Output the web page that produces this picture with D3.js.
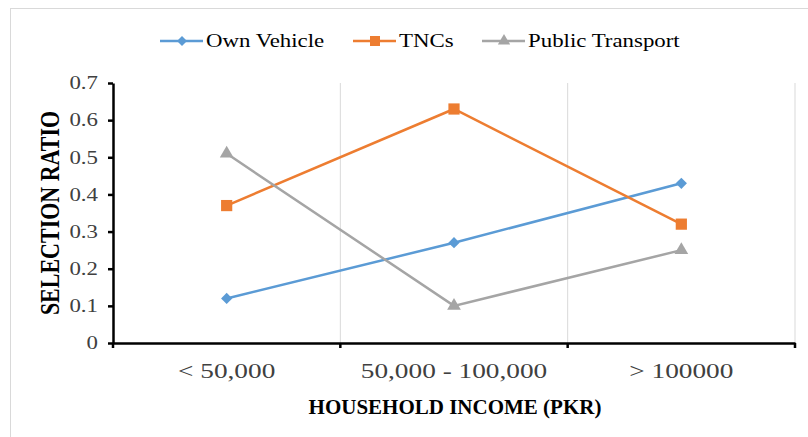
<!DOCTYPE html>
<html lang="en">
  <head>
    <meta charset="utf-8" />
    <script src="https://cdn.jsdelivr.net/npm/d3@7/dist/d3.min.js"></script>
    <style>
      body { margin: 0; background: #fff; }
      text { font-family: "Liberation Serif", "Times New Roman", serif; }
      .y-axis .tick text { fill: #404040; font-size: 18px; }
      .x-axis .tick text { fill: #404040; font-size: 21.5px; }
      .axis-title { font-weight: bold; fill: #000; }
      .legend text { font-size: 18px; fill: #000; }
    </style>
  </head>
  <body>
    <div id="container"></div>

    <script type="module">
      const categories = ["< 50,000", "50,000 - 100,000", "> 100000"];
      const ownVehicle = [0.12, 0.27, 0.43];
      const tncs = [0.37, 0.63, 0.32];
      const publicTransport = [0.51, 0.10, 0.25];
      const yTicks = [0, 0.1, 0.2, 0.3, 0.4, 0.5, 0.6, 0.7];

      const series = [
        { name: "Own Vehicle", values: ownVehicle, color: "#5B9BD5", symbol: d3.symbolDiamond2, size: 80 },
        { name: "TNCs", values: tncs, color: "#ED7D31", symbol: d3.symbolSquare2, size: 160 },
        { name: "Public Transport", values: publicTransport, color: "#A5A5A5", symbol: d3.symbolTriangle2, size: 135 }
      ];

      const width = 808;
      const height = 437;
      const margin = { left: 113, right: 13, top: 83, bottom: 94 };
      // the source picture looks stretched sideways, so text gets a horizontal scale
      const SX = 1.27;

      const svg = d3.select("#container").append("svg").attr("width", width).attr("height", height);

      // outer chart border
      svg.append("rect").attr("x", 10.5).attr("y", 8.5).attr("width", 820).attr("height", 460)
        .attr("fill", "none").attr("stroke", "#d9d9d9");

      const x = d3.scaleBand().domain(categories).range([margin.left, width - margin.right]);
      const y = d3.scaleLinear().domain([0, 0.7]).range([height - margin.bottom, margin.top]);

      // vertical gridlines at category boundaries
      svg.append("g").selectAll("line").data(categories).enter().append("line")
        .attr("x1", (d) => x(d) + x.bandwidth()).attr("x2", (d) => x(d) + x.bandwidth())
        .attr("y1", y(0.7)).attr("y2", y(0))
        .attr("stroke", "#d9d9d9").attr("stroke-width", 1);

      // y axis
      const yAxis = svg.append("g").attr("class", "y-axis").attr("transform", `translate(${margin.left},0)`)
        .call(d3.axisLeft(y).tickValues(yTicks).tickFormat((d) => (d === 0 ? "0" : d3.format(".1f")(d))).tickSize(5).tickSizeOuter(0));
      yAxis.select(".domain").attr("stroke", "#000").attr("stroke-width", 2.5);
      yAxis.selectAll(".tick line").attr("stroke", "#000").attr("stroke-width", 2.5);
      yAxis.selectAll(".tick text").attr("x", 0).attr("transform", `translate(-15,0) scale(${SX},1)`);

      // x axis
      const xAxis = svg.append("g").attr("class", "x-axis").attr("transform", `translate(0,${y(0)})`)
        .call(d3.axisBottom(x).tickSize(0).tickPadding(20));
      xAxis.select(".domain").attr("stroke", "#000").attr("stroke-width", 2.5);
      xAxis.selectAll(".tick text").attr("transform", `scale(${SX},1)`);
      const bounds = [margin.left].concat(categories.map((d) => x(d) + x.bandwidth()));
      xAxis.selectAll(".bound").data(bounds).enter().append("line")
        .attr("x1", (d) => d).attr("x2", (d) => d).attr("y1", 0).attr("y2", 5)
        .attr("stroke", "#000").attr("stroke-width", 2.5);

      const cx = (i) => x(categories[i]) + x.bandwidth() / 2;
      const line = d3.line().x((d, i) => cx(i)).y((d) => y(d));

      series.forEach((s) => {
        svg.append("path").datum(s.values).attr("fill", "none").attr("stroke", s.color)
          .attr("stroke-width", 2.5).attr("d", line);
        svg.append("g").selectAll("path").data(s.values).enter().append("path")
          .attr("transform", (d, i) => `translate(${cx(i)},${y(d)})`)
          .attr("d", d3.symbol().type(s.symbol).size(s.size)).attr("fill", s.color);
      });

      // axis titles
      svg.append("text").attr("class", "axis-title").attr("text-anchor", "middle").style("font-size", "22px")
        .attr("transform", `translate(59,${(y(0) + y(0.7)) / 2}) rotate(-90) scale(1,${SX})`).text("SELECTION RATIO");
      svg.append("text").attr("class", "axis-title").attr("text-anchor", "middle").style("font-size", "21px")
        .attr("x", 455).attr("y", 414).text("HOUSEHOLD INCOME (PKR)");

      // legend
      const legendX = [160, 353, 482];
      const legend = svg.append("g").attr("class", "legend");
      series.forEach((s, i) => {
        const g = legend.append("g").attr("transform", `translate(${legendX[i]},41)`);
        g.append("line").attr("x1", 0).attr("x2", 43).attr("stroke", s.color).attr("stroke-width", 2.5);
        g.append("path").attr("transform", "translate(22,0)").attr("d", d3.symbol().type(s.symbol).size(s.size * 0.8)).attr("fill", s.color);
        g.append("text").attr("transform", `translate(46,6) scale(${SX},1)`).text(s.name);
      });
    </script>
  </body>
</html>
